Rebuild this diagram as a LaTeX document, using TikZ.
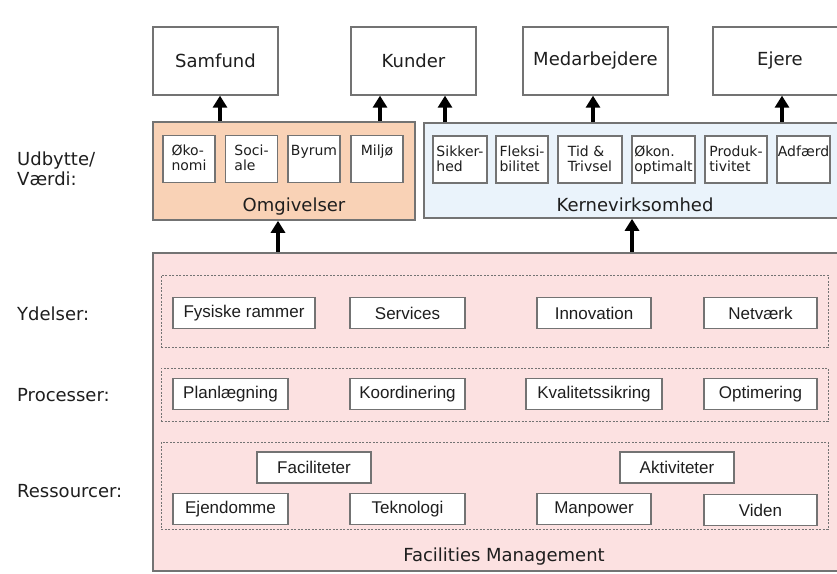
\documentclass[tikz,border=0pt]{standalone}
\usepackage{fontspec}
\setmainfont{DejaVu Sans}
\newfontfamily\itemfont{Liberation Sans}
\usetikzlibrary{arrows.meta, positioning, calc}

\definecolor{peach}{HTML}{F9D2B6}
\definecolor{paleblue}{HTML}{EAF3FB}
\definecolor{palepink}{HTML}{FCE1E1}
\definecolor{edgegray}{HTML}{737373}
\definecolor{textdark}{HTML}{1E1E1E}

\tikzset{
    stake/.style={draw=edgegray, line width=1.3pt, fill=white, minimum height=68pt, inner sep=0pt, font=\fontsize{18}{20}\selectfont},
    area/.style={draw=edgegray, line width=1.6pt, inner sep=0pt},
    heading/.style={anchor=base, inner sep=0pt, font=\fontsize{18}{20}\selectfont},
    valbox/.style={draw=edgegray, line width=1.2pt, fill=white, minimum height=47pt, inner sep=0pt},
    valtxt/.style={anchor=north, align=left, inner sep=0pt, yshift=-10pt, font=\fontsize{14}{15}\selectfont},
    dashgroup/.style={draw=edgegray, dash pattern=on 2pt off 1.5pt, line width=1pt, inner sep=0pt},
    item/.style={draw=edgegray, line width=1.2pt, fill=white, minimum height=31pt, inner sep=0pt, font=\itemfont\fontsize{17}{19}\selectfont},
    tier/.style={anchor=west, align=left, inner sep=0pt, font=\fontsize{18}{20}\selectfont},
    uparrow/.style={line width=3.5pt, -{Triangle[length=12pt, width=14pt]}},
}

\begin{document}
\begin{tikzpicture}[x=1pt, y=-1pt, text=textdark]
    \useasboundingbox (0,0) rectangle (837,573);

    % stakeholders
    \node[stake, minimum width=125pt] (samf) at (215.5,61) {Samfund};
    \node[stake, minimum width=125pt] (kund) at (413.5,61) {Kunder};
    \node[stake, minimum width=145pt] (medarb) at (595.5,61) {Medarbejdere};
    \node[stake, minimum width=134pt] (ejere) at (780,61) {Ejere};

    % value areas
    \node[area, fill=peach, minimum width=262pt, minimum height=98pt] (omg) at (284,171) {};
    \node[area, fill=paleblue, minimum width=426pt, minimum height=95pt] (kern) at (637,170.5) {};
    \node[heading] (omglbl) at (294,211) {Omgivelser};
    \node[heading] (kernlbl) at (635,211) {Kernevirksomhed};

    \node[valbox, minimum width=52pt, label={[valtxt]north:Øko-\\nomi}] (oekonomi) at (189,159) {};
    \node[valbox, minimum width=52pt, label={[valtxt]north:Soci-\\ale}] (sociale) at (251.5,159) {};
    \node[valbox, minimum width=52pt, label={[valtxt]north:Byrum}] (byrum) at (314,159) {};
    \node[valbox, minimum width=52pt, label={[valtxt]north:Miljø}] (miljoe) at (377,159) {};

    \node[valbox, minimum width=54pt, label={[valtxt]north:Sikker-\\hed}] (sikker) at (460,159.5) {};
    \node[valbox, minimum width=52pt, label={[valtxt]north:Fleksi-\\bilitet}] (fleksi) at (522,159.5) {};
    \node[valbox, minimum width=64pt, label={[valtxt]north:Tid \&\\Trivsel}] (trivsel) at (590,159.5) {};
    \node[valbox, minimum width=63pt, label={[valtxt]north:Økon.\\optimalt}] (oekon) at (663.5,159.5) {};
    \node[valbox, minimum width=62pt, label={[valtxt]north:Produk-\\tivitet}] (produk) at (736,159.5) {};
    \node[valbox, minimum width=53pt, label={[valtxt]north:Adfærd}] (adfaerd) at (803.5,159.5) {};

    % facilities management
    \node[area, fill=palepink, minimum width=697pt, minimum height=318pt] (fm) at (501.5,412) {};
    \node[heading] (fmlbl) at (504,561) {Facilities Management};

    \node[dashgroup, minimum width=667pt, minimum height=72pt] (ydelser) at (494.5,311) {};
    \node[dashgroup, minimum width=667pt, minimum height=53pt] (processer) at (494.5,394.5) {};
    \node[dashgroup, minimum width=667pt, minimum height=87pt] (ressourcer) at (494.5,485.5) {};

    \node[item, minimum width=142pt] (fysiske) at (244,313) {Fysiske rammer};
    \node[item, minimum width=115pt] (services) at (407.5,313) {Services};
    \node[item, minimum width=114pt] (innovation) at (594,313) {Innovation};
    \node[item, minimum width=113pt] (netvaerk) at (760.5,313) {Netværk};

    \node[item, minimum width=115pt] (planl) at (230.5,394) {Planlægning};
    \node[item, minimum width=115pt] (koord) at (407.5,394) {Koordinering};
    \node[item, minimum width=136pt] (kvalitet) at (594,394) {Kvalitetssikring};
    \node[item, minimum width=113pt] (optim) at (760.5,394) {Optimering};

    \node[item, minimum width=114pt] (facil) at (314,467.5) {Faciliteter};
    \node[item, minimum width=114pt] (aktiv) at (677,467.5) {Aktiviteter};
    \node[item, minimum width=115pt] (ejendom) at (230.5,509) {Ejendomme};
    \node[item, minimum width=115pt] (teknologi) at (407.5,509) {Teknologi};
    \node[item, minimum width=114pt] (manpower) at (594,509) {Manpower};
    \node[item, minimum width=113pt] (viden) at (760.5,510) {Viden};

    % row labels
    \node[tier] (udbytte) at (17,169) {Udbytte/\\Værdi:};
    \node[tier] (ydlbl) at (17,314) {Ydelser:};
    \node[tier] (prlbl) at (17,395) {Processer:};
    \node[tier] (reslbl) at (17,491) {Ressourcer:};

    % arrows
    \draw[uparrow] ($(samf.south |- omg.north)+(4.5,0)$) -- ($(samf.south)+(4.5,0)$);
    \draw[uparrow] ($(kund.south |- omg.north)+(-33.5,0)$) -- ($(kund.south)+(-33.5,0)$);
    \draw[uparrow] ($(kund.south |- kern.north)+(31.5,0)$) -- ($(kund.south)+(31.5,0)$);
    \draw[uparrow] ($(medarb.south |- kern.north)+(-2.5,0)$) -- ($(medarb.south)+(-2.5,0)$);
    \draw[uparrow] ($(ejere.south |- kern.north)+(2,0)$) -- ($(ejere.south)+(2,0)$);
    \draw[uparrow] ($(omg.south |- fm.north)+(-6,0)$) -- ($(omg.south)+(-6,0)$);
    \draw[uparrow] ($(kern.south |- fm.north)+(-5,0)$) -- ($(kern.south)+(-5,0)$);
\end{tikzpicture}
\end{document}
